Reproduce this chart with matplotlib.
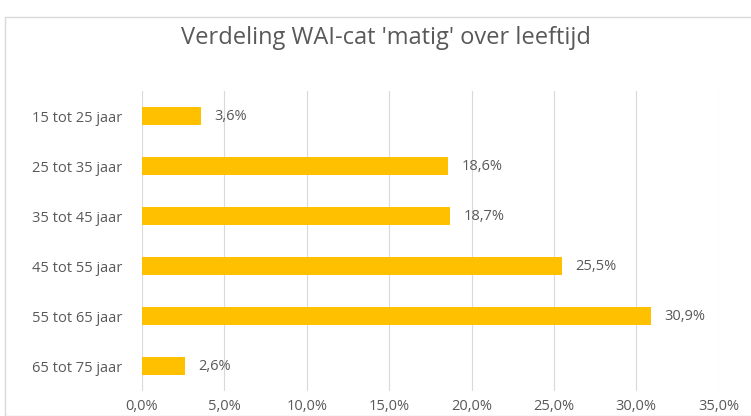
import matplotlib.pyplot as plt
from matplotlib.ticker import FuncFormatter
from matplotlib.patches import Rectangle

categories = ['15 tot 25 jaar', '25 tot 35 jaar', '35 tot 45 jaar',
              '45 tot 55 jaar', '55 tot 65 jaar', '65 tot 75 jaar']
values = [3.6, 18.6, 18.7, 25.5, 30.9, 2.6]
xticks = [0, 5, 10, 15, 20, 25, 30, 35]

plt.rcParams['font.family'] = ['Open Sans', 'DejaVu Sans']

fig = plt.figure(figsize=(7.51, 4.16), dpi=100)
ax = fig.add_axes([0.189, 0.060, 0.768, 0.721])

y = list(range(len(categories)))
ax.barh(y, values, height=0.36, color='#FFC000', zorder=3)
for yi, v in zip(y, values):
    ax.text(v + 0.8, yi, f'{v:.1f}%'.replace('.', ','), va='center', ha='left',
            fontsize=10.5, color='#595959')

ax.set_yticks(y)
ax.set_yticklabels(categories)
ax.set_ylim(len(categories) - 0.5, -0.5)
ax.set_xlim(0, 35)
ax.set_xticks(xticks)
ax.xaxis.set_major_formatter(FuncFormatter(lambda v, p: f'{v:.1f}%'.replace('.', ',')))
ax.grid(axis='x', color='#D9D9D9', linewidth=0.8, zorder=0)
for s in ax.spines.values():
    s.set_visible(False)
ax.tick_params(axis='both', length=0, labelsize=10.5, labelcolor='#595959')
ax.tick_params(axis='y', pad=14)
ax.tick_params(axis='x', pad=6)

fig.text(0.514, 0.909, "Verdeling WAI-cat 'matig' over leeftijd", ha='center', va='center',
         fontsize=17, color='#595959')
fig.patches.append(Rectangle((0.007, 0.0), 0.995, 0.96, transform=fig.transFigure,
                             fill=False, edgecolor='#D9D9D9', linewidth=1))

fig.savefig('out.png', dpi=100)
